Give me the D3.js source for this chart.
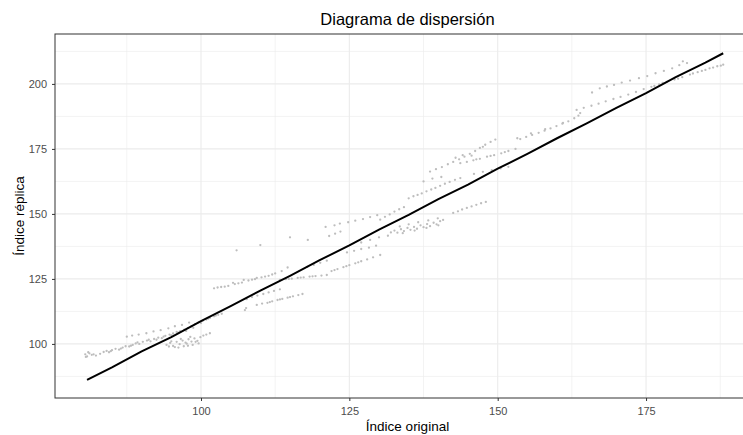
<!DOCTYPE html>
<html>
<head>
<meta charset="utf-8">
<script src="https://cdn.jsdelivr.net/npm/d3@7"></script>
<style>
  body { margin: 0; background: #fff; }
  svg { font-family: "Liberation Sans", Arial, sans-serif; }
</style>
</head>
<body>
<svg width="743" height="435"></svg>
<script>
// Datos (índice original, índice réplica)
const tramoInferior = [
  [80.5,96.0],[80.6,95.0],[80.8,95.2],[81.0,96.8],[81.2,96.4],[81.6,95.8],[81.9,96.0],[82.3,95.5],
  [83.0,96.2],[83.6,96.9],[84.1,97.3],[84.5,96.8],[85.0,97.6],[85.6,98.1],[86.2,97.8],[86.8,98.6],
  [87.3,99.1],[87.9,99.0],[88.5,99.6],[89.0,100.2],[89.6,100.0],[90.2,100.8],[90.9,101.3],[91.5,101.0],
  [92.1,101.9],[92.8,102.4],[93.4,102.2],[94.0,103.1],[94.7,103.6],[95.3,104.0],[95.9,104.6],[96.5,104.9],
  [97.2,105.5],[97.8,106.1],[98.4,106.8],[99.0,107.6],[99.6,108.3],[100.3,108.9],[100.9,109.4],[101.5,110.0],
  [102.2,110.6],[102.9,111.2],[103.5,111.6],
  [84.8,97.2],[86.5,98.2],[88.2,99.3],[89.3,100.6],[91.2,101.6],[92.5,101.6],[93.7,102.8],[95.0,103.3],
  [96.2,104.3],[97.5,105.0],[98.7,106.2],[100.0,108.0],[101.2,109.7],[102.5,110.9],
  [87.5,102.8],[88.4,103.2],[89.5,103.6],[90.8,104.1],[92.0,104.8],[93.2,105.3],[94.5,106.0],[95.6,106.8],
  [96.8,107.3],[98.0,108.2],
  [94.2,99.6],[94.8,100.4],[95.3,99.2],[95.9,100.8],[96.4,99.9],[96.9,101.3],[97.4,100.5],[97.9,101.8],
  [98.4,100.9],[98.9,102.1],[99.4,101.2],[99.9,102.6],[100.4,103.2],[100.9,103.6],[101.5,104.1],[95.6,98.8],
  [97.1,99.1],[98.6,99.6],[99.6,100.2],[96.2,98.6],[97.8,99.3],[95.0,101.0],[96.6,101.9],[98.2,102.7],
  [99.1,100.8],[94.6,99.0],[97.6,100.1]
];

const tramoMedio = [
  [102.2,121.4],[103.4,121.9],[104.6,122.3],[105.7,123.0],[106.9,123.6],[108.0,124.4],[109.1,124.9],[110.2,125.6],
  [111.4,126.2],[112.5,127.1],[113.6,128.0],[114.6,129.4],[105.4,123.5],[107.2,124.6],[109.4,125.4],
  [102.8,121.7],[104.0,122.0],[106.3,123.3],[108.6,124.7],[110.8,125.9],[112.0,126.7],
  [107.6,113.8],[109.4,115.0],[110.3,115.5],[111.2,115.8],[112.0,116.4],[112.9,116.9],[113.7,117.3],[114.6,117.8],
  [115.5,118.3],[116.4,118.8],[117.1,119.2],[107.4,113.0],[111.6,116.1],[113.3,117.1],[115.0,118.0],
  [107.7,117.2],[108.6,118.0],[109.5,118.6],[110.5,119.2],[111.4,119.8],[112.3,120.4],[113.3,121.0],
  [113.3,124.6],[114.3,124.9],[115.3,125.1],[116.3,125.4],[117.3,125.6],[118.3,125.9],[119.3,126.1],[120.3,126.3],
  [121.2,126.5],[114.8,125.0],[116.8,125.5],[118.8,126.0],
  [106.0,136.0],[110.0,138.0],[115.0,141.0],[118.0,140.0],
  [117.9,129.6],[119.0,130.4],[120.1,131.2],[121.2,132.0],[122.0,128.0],[123.0,128.8],[124.0,129.5],[125.0,130.3],
  [126.0,131.0],[127.0,131.8],[128.0,132.5],[129.0,133.3],[130.2,134.2],[122.5,128.4],[124.5,129.9],[126.5,131.4],
  [124.6,135.2],[125.8,135.8],[127.0,136.5],[128.3,137.0],[129.5,137.8],[127.0,139.0],[128.5,140.0],[130.0,141.0],
  [131.5,141.6],
  [121.0,145.0],[122.5,145.6],[123.4,146.3],[124.8,146.8],[126.0,147.4],[127.3,148.0],[128.5,148.8],[129.7,149.5],
  [121.6,141.5],[122.6,142.4],[123.5,143.2],
  [130.2,147.8],[131.0,148.9],[131.8,149.8],[132.6,150.9],[133.4,151.8],[134.2,152.6],
  [132.0,142.9],[132.6,143.6],[133.1,142.8],[133.7,144.1],[134.2,143.4],[134.8,144.6],[135.3,143.9],[135.9,145.0],
  [136.4,144.3],[137.0,145.6],[137.5,144.9],[138.1,146.1],[138.6,145.3],[139.2,146.6],[139.7,146.0],[140.3,147.2],
  [140.8,147.7],[133.5,145.2],[135.0,146.0],[136.6,146.8],[138.3,147.5],[139.9,148.3],[134.0,142.6],[136.0,143.6],
  [138.0,144.6],[140.0,145.6]
];

const tramoSuperior = [
  [135.0,156.0],[135.8,156.8],[136.5,157.3],[137.2,157.9],[138.0,158.7],[138.8,159.4],[139.5,160.0],[140.3,160.8],
  [141.1,161.6],[141.9,162.3],[142.8,163.1],[143.7,163.8],[137.5,162.5],[139.0,163.6],[140.5,164.2],
  [138.6,166.3],[139.6,167.2],[140.6,168.0],[141.6,169.1],[142.5,170.0],[143.5,171.0],[144.4,172.0],[145.3,173.1],
  [146.2,174.2],[147.0,175.4],[147.9,176.6],[148.8,177.7],[149.6,178.6],[142.9,171.6],[144.1,172.6],[145.6,172.4],
  [143.7,169.5],[144.8,170.0],[145.9,170.6],[147.0,171.2],[148.2,172.0],[149.4,172.6],[150.6,173.3],[151.8,174.2],
  [153.0,175.0],[147.5,175.8],[146.4,171.0],[148.8,172.3],[151.2,173.8],
  [142.5,150.4],[143.3,151.0],[144.0,151.7],[144.8,152.3],[145.6,152.9],[146.4,153.5],[147.2,154.1],[148.0,154.6],
  [146.0,165.4],[147.5,166.2],[149.0,166.8],[150.5,167.5],[151.8,168.1],
  [153.3,179.1],[153.8,178.8],[154.8,179.6],[155.6,181.0],[155.8,180.4],[156.9,181.2],[157.9,182.0],[158.0,182.6],
  [158.9,182.9],[159.9,183.8],[160.9,184.7],[161.0,185.0],[161.9,185.6],[162.9,186.8],[163.6,187.8],[163.9,188.8],
  [163.3,190.0],[164.5,190.8],[165.8,191.6],[167.0,192.4],[168.2,193.3],[169.5,194.2],[170.7,195.0],[172.0,195.9],
  [173.3,196.9],[174.6,198.0],[175.9,198.9],[177.2,199.8],[178.5,200.8],[179.8,201.7],[181.1,202.6],[182.4,203.6],
  [183.7,204.5],[185.0,205.4],[186.3,206.3],[187.6,207.0],[188.0,207.4],[176.4,199.2],[180.4,202.0],[184.4,205.0],
  [177.8,200.4],[182.9,204.0],[185.7,206.0],[187.0,206.8],
  [165.9,196.7],[167.2,198.3],[168.4,199.0],[169.6,199.6],[170.9,200.5],[172.3,201.3],[173.8,202.2],[175.2,203.0],
  [176.6,204.1],[178.0,205.0],[179.4,206.0],[180.6,207.2],[181.2,208.7],[181.9,208.0]
];

// Línea de ajuste
const ajuste = [
  [80.8,86.2],[85,91.0],[90,97.1],[95,102.6],[100,108.8],[105,114.5],[110,120.5],[115,126.2],
  [120,132.2],[125,137.9],[130,144.0],[135,149.6],[140,155.7],[145,161.3],[150,167.4],[155,173.1],
  [160,179.1],[165,184.8],[170,190.8],[175,196.5],[180,202.6],[185,208.2],[188,211.8]
];

const ticksX = [100, 125, 150, 175];
const ticksY = [100, 125, 150, 175, 200];
const menoresX = [87.5, 112.5, 137.5, 162.5, 187.5];
const menoresY = [87.5, 112.5, 137.5, 162.5, 187.5, 212.5];

const svg = d3.select("svg");
const m = { left: 55, right: 760, top: 34, bottom: 398 };

const x = d3.scaleLinear().domain([75.4, 194.2]).range([m.left, m.right]);
const y = d3.scaleLinear().domain([79.2, 219.2]).range([m.bottom, m.top]);

const panel = svg.append("g");

// rejilla menor y mayor
panel.selectAll(".vmin").data(menoresX).join("line")
  .attr("x1", d => x(d)).attr("x2", d => x(d)).attr("y1", m.top).attr("y2", m.bottom)
  .attr("stroke", "#ebebeb").attr("stroke-width", 0.6);
panel.selectAll(".hmin").data(menoresY).join("line")
  .attr("y1", d => y(d)).attr("y2", d => y(d)).attr("x1", m.left).attr("x2", m.right)
  .attr("stroke", "#ebebeb").attr("stroke-width", 0.6);
panel.selectAll(".vmaj").data(ticksX).join("line")
  .attr("x1", d => x(d)).attr("x2", d => x(d)).attr("y1", m.top).attr("y2", m.bottom)
  .attr("stroke", "#ebebeb").attr("stroke-width", 1.1);
panel.selectAll(".hmaj").data(ticksY).join("line")
  .attr("y1", d => y(d)).attr("y2", d => y(d)).attr("x1", m.left).attr("x2", m.right)
  .attr("stroke", "#ebebeb").attr("stroke-width", 1.1);

// puntos
const puntos = tramoInferior.concat(tramoMedio, tramoSuperior);
panel.selectAll("circle").data(puntos).join("circle")
  .attr("cx", d => x(d[0]))
  .attr("cy", d => y(d[1]))
  .attr("r", 1.15)
  .attr("fill", "#bdbdbd");

// línea
const line = d3.line()
  .x(d => x(d[0]))
  .y(d => y(d[1]));
panel.append("path")
  .attr("d", line(ajuste))
  .attr("fill", "none")
  .attr("stroke", "#000")
  .attr("stroke-width", 2);

// borde del panel
svg.append("rect")
  .attr("x", m.left).attr("y", m.top)
  .attr("width", m.right - m.left).attr("height", m.bottom - m.top)
  .attr("fill", "none").attr("stroke", "#333").attr("stroke-width", 1);

// ejes
const ax = svg.append("g").attr("transform", `translate(0,${m.bottom})`)
  .call(d3.axisBottom(x).tickValues(ticksX).tickSize(3).tickPadding(6));
const ay = svg.append("g").attr("transform", `translate(${m.left},0)`)
  .call(d3.axisLeft(y).tickValues(ticksY).tickSize(3).tickPadding(5));
[ax, ay].forEach(g => {
  g.select(".domain").remove();
  g.selectAll(".tick line").attr("stroke", "#333");
  g.selectAll(".tick text").attr("fill", "#4d4d4d").attr("font-size", 11)
    .attr("font-family", "Liberation Sans, Arial, sans-serif");
});

// títulos
svg.append("text")
  .attr("x", (m.left + m.right) / 2).attr("y", 25)
  .attr("text-anchor", "middle").attr("font-size", 16.5).attr("fill", "#000")
  .text("Diagrama de dispersión");
svg.append("text")
  .attr("x", (m.left + m.right) / 2).attr("y", 431)
  .attr("text-anchor", "middle").attr("font-size", 13.5).attr("fill", "#000")
  .text("Índice original");
svg.append("text")
  .attr("transform", `translate(24,${(m.top + m.bottom) / 2}) rotate(-90)`)
  .attr("text-anchor", "middle").attr("font-size", 13.5).attr("fill", "#000")
  .text("Índice réplica");
</script>
</body>
</html>
